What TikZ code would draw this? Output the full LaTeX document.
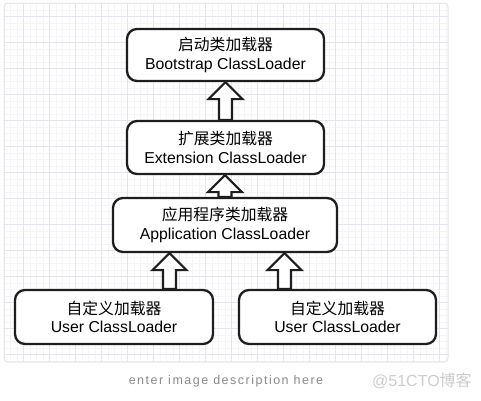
\documentclass[tikz,border=0pt]{standalone}
\usepackage{fontspec}
\setmainfont{Liberation Sans}
\newfontfamily\cjk{Noto Sans CJK SC}
\newfontfamily\capfont[LetterSpace=12]{Liberation Sans}
\usetikzlibrary{calc}
\definecolor{gridmajor}{HTML}{E4E4EC}
\definecolor{gridminor}{HTML}{F5F5F8}
\definecolor{framegray}{HTML}{E6E6E6}
\definecolor{ink}{HTML}{1E1E1E}
\definecolor{captiongray}{HTML}{8A8A8A}
\definecolor{wmgray}{HTML}{CDCDCD}
\newcommand\upblockarrow[2]{%
  \draw[blockarrow] let \p1=(#1), \p2=(#2) in
    (\x1-6.5pt,\y1) -- (\x1-6.5pt,\y2-17pt) -- (\x1-17pt,\y2-17pt) -- (\x1,\y2)
    -- (\x1+17pt,\y2-17pt) -- (\x1+6.5pt,\y2-17pt) -- (\x1+6.5pt,\y1) -- cycle;}
\begin{document}
\begin{tikzpicture}[x=1pt,y=-1pt,
  loader/.style={draw=ink, line width=2.3pt, rounded corners=10pt, fill=white,
    align=center, inner sep=0pt, font=\fontsize{15.8}{18.5}\selectfont},
  blockarrow/.style={draw=ink, line width=2.1pt, fill=white, line join=miter}]
\useasboundingbox (0,0) rectangle (481,400);
\fill[white] (0,0) rectangle (481,400);
% grid
\begin{scope}
  \clip[rounded corners=4pt] (4,3) rectangle (448,362);
  \foreach \k in {-3,...,67} {
    \draw[gridminor, line width=0.5pt] ({23.3+6.5*\k},0) -- ({23.3+6.5*\k},400);
  }
  \foreach \k in {-3,...,54} {
    \draw[gridminor, line width=0.5pt] (0,{16.3+6.5*\k}) -- (481,{16.3+6.5*\k});
  }
  \foreach \k in {-1,...,17} {
    \draw[gridmajor, line width=0.8pt] ({23.3+26*\k},0) -- ({23.3+26*\k},400);
  }
  \foreach \k in {-1,...,14} {
    \draw[gridmajor, line width=0.8pt] (0,{16.3+26*\k}) -- (481,{16.3+26*\k});
  }
\end{scope}
\draw[framegray, line width=1pt, rounded corners=4pt] (4,3) rectangle (448,362);
% loaders
\node[loader, minimum width=197pt, minimum height=52pt] (boot) at (225.5,55)
  {{\cjk 启动类加载器}\\Bootstrap ClassLoader};
\node[loader, minimum width=197pt, minimum height=53pt] (ext) at (225.5,147.5)
  {{\cjk 扩展类加载器}\\Extension ClassLoader};
\node[loader, minimum width=224pt, minimum height=54pt] (app) at (225,225)
  {{\cjk 应用程序类加载器}\\Application ClassLoader};
\node[loader, minimum width=198pt, minimum height=54pt] (ul) at (114,317)
  {{\cjk 自定义加载器}\\User ClassLoader};
\node[loader, minimum width=197pt, minimum height=54pt] (ur) at (337.5,317)
  {{\cjk 自定义加载器}\\User ClassLoader};
% arrows
\path (app.south) ++(-55.5,0) coordinate (lt);
\path (lt |- ul.north) coordinate (lb);
\path (app.south) ++(59.5,0) coordinate (rt);
\path (rt |- ur.north) coordinate (rb);
\upblockarrow{ext.north}{boot.south}
\upblockarrow{app.north}{ext.south}
\upblockarrow{lb}{lt}
\upblockarrow{rb}{rt}
% captions
\node[text=captiongray, font=\capfont\fontsize{12.5}{14}\selectfont] (cap) at (226,381)
  {enter image description here};
\node[text=wmgray, font=\fontsize{16}{18}\selectfont, anchor=west, inner sep=0pt] (wm) at (372,381)
  {@51CTO{\cjk 博客}};
\end{tikzpicture}
\end{document}
